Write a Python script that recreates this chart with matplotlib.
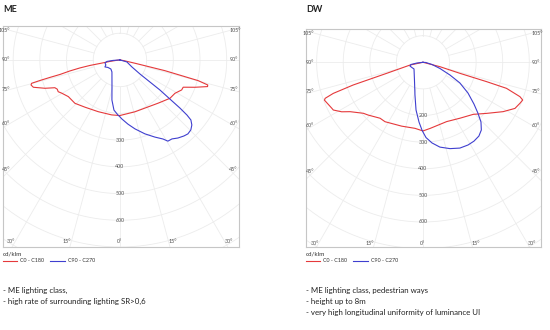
import numpy as np
import matplotlib.pyplot as plt
from matplotlib.lines import Line2D

# luminous intensity curves, gamma angle (deg from nadir) -> cd/klm
# ME luminaire
me_c0_gamma = [0, 16.2, 41.5, 52.5, 58.8, 64.1, 66.7, 70, 73.1, 74.1, 75.2, 76.6, 77.6, 80, 90]
me_c0_cd = [208, 202, 216, 236, 241, 257, 258, 299, 343, 342, 303, 173, 58, 15, 0]
me_c180_gamma = [0, 8.6, 22.8, 36.5, 46.1, 54.6, 60.3, 62.8, 65, 66.9, 69.3, 72.5, 74.3,
                 75.2, 75.6, 76, 76.4, 77.6, 78.7, 79.6, 80, 81.5, 83, 90]
me_c180_cd = [208, 208, 210, 220, 234, 237, 251, 260, 259, 265, 300, 340, 346,
              342, 309, 270, 231, 192, 153, 114, 76, 38, 15, 0]
me_c90_gamma = [0, 1.9, 7.1, 12.3, 18.7, 24.4, 28.6, 30.6, 33.4, 36.6, 40.1, 42.6, 45.4,
                47.9, 49.8, 50.6, 51.3, 52, 53.1, 53.7, 55, 59.7, 74, 90]
me_c90_cd = [213, 221, 242, 264, 292, 317, 337, 353, 354, 364, 372, 376, 373,
             363, 348, 325, 288, 237, 187, 139, 91, 52, 27, 0]
me_c270_gamma = [0, 2.1, 6.8, 11.3, 17.7, 33.7, 45, 58, 65, 70.3, 78.7, 83.4, 86, 90]
me_c270_cd = [213, 206, 189, 153, 98, 54, 48, 53, 62, 56, 57, 49, 26, 0]

# DW luminaire
dw_c0_gamma = [0, 6.1, 21.8, 33.5, 44, 51.3, 58.4, 63.4, 67.1, 69.3, 70.5, 72.7, 73.1, 73.4, 75.5, 90]
dw_c0_cd = [258, 250, 240, 252, 272, 307, 354, 387, 396, 401, 387, 329, 250, 145, 66, 0]
dw_c180_gamma = [0, 6.9, 18.5, 32.6, 37.5, 46.1, 49.5, 55.9, 58.7, 62, 63.3, 69, 69.8,
                 70.9, 72, 73.1, 78, 90]
dw_c180_cd = [258, 250, 253, 265, 265, 286, 295, 331, 358, 382, 384, 397, 392,
              357, 276, 143, 50, 0]
dw_c90_gamma = [0, 2.3, 6.4, 11.3, 17.4, 23.3, 28.6, 32.9, 37.2, 40.8, 44.2, 47.3, 50.7,
                55.7, 60.8, 64.8, 70, 76.3, 86, 90]
dw_c90_cd = [262, 283, 305, 325, 340, 351, 354, 353, 348, 336, 313, 281, 248,
             205, 159, 112, 68, 35, 11, 0]
dw_c270_gamma = [0.8, 3.8, 8.3, 13.7, 25.6, 53.3, 64.7, 74.1, 79.6, 83.3, 90]
dw_c270_cd = [255, 225, 181, 127, 74, 42, 46, 51, 46, 23, 0]

W, H = 550, 330
RED = '#e5393b'
BLUE = '#3f3fcf'
GRID = '#ececec'
LBL = '#505050'
plt.rcParams['font.family'] = ['Lato', 'DejaVu Sans']


def px(x, y):
    return x / W, 1 - y / H


def xy(gamma, cd, side):
    g = np.radians(np.asarray(gamma, float)) * side
    r = np.asarray(cd, float)
    return r * np.sin(g), -r * np.cos(g)


def curve(ax, g_right, i_right, g_left, i_left, color):
    xl, yl = xy(g_left, i_left, -1)
    xr, yr = xy(g_right, i_right, 1)
    x = np.concatenate([xl[::-1], xr])
    y = np.concatenate([yl[::-1], yr])
    ax.plot(x, y, color=color, lw=0.8, zorder=3)


def panel(rect, xlim, ylim, radial_labels):
    ax = fig.add_axes(rect)
    ax.set_xlim(*xlim)
    ax.set_ylim(*ylim)
    ax.set_xticks([])
    ax.set_yticks([])
    for s in ax.spines.values():
        s.set_color('#c6c6c6')
        s.set_linewidth(0.8)
    t = np.linspace(0, 2 * np.pi, 361)
    for r in range(100, 1000, 100):
        ax.plot(r * np.sin(t), r * np.cos(t), color=GRID, lw=0.6, zorder=1)
    for a in range(0, 360, 15):
        ar = np.radians(a)
        ax.plot([100 * np.sin(ar), 1200 * np.sin(ar)], [-100 * np.cos(ar), -1200 * np.cos(ar)],
                color=GRID, lw=0.6, zorder=1)
    for r in radial_labels:
        ax.text(0, -r, str(r), ha='center', va='center', fontsize=3.9, color=LBL, zorder=2)
    # angle labels on the sides
    for a in [105, 90, 75, 60, 45]:
        ar = np.radians(a)
        yy = -410 * np.cos(ar) / np.sin(ar)
        ax.text(-410, yy, f'{a}°', ha='right', va='center', fontsize=3.9, color=LBL)
        ax.text(410, yy, f'{a}°', ha='left', va='center', fontsize=3.9, color=LBL)
    # and along the bottom
    for a in [30, 15, 0]:
        xx = 680 * np.tan(np.radians(a))
        if a == 0:
            ax.text(0, -680, '0°', ha='center', va='center', fontsize=3.9, color=LBL)
        else:
            ax.text(-xx, -680, f'{a}°', ha='right', va='center', fontsize=3.9, color=LBL)
            ax.text(xx, -680, f'{a}°', ha='left', va='center', fontsize=3.9, color=LBL)
    return ax


fig = plt.figure(figsize=(W / 100, H / 100), dpi=100)

ax1 = panel([3 / W, (H - 247) / H, 236 / W, 221 / H], (-438, 446), (-700, 127), [300, 400, 500, 600])
curve(ax1, me_c0_gamma, me_c0_cd, me_c180_gamma, me_c180_cd, RED)
curve(ax1, me_c90_gamma, me_c90_cd, me_c270_gamma, me_c270_cd, BLUE)

ax2 = panel([306 / W, (H - 246.7) / H, 235 / W, 217.4 / H], (-440, 444), (-693, 124), [200, 300, 400, 500, 600])
curve(ax2, dw_c0_gamma, dw_c0_cd, dw_c180_gamma, dw_c180_cd, RED)
curve(ax2, dw_c90_gamma, dw_c90_cd, dw_c270_gamma, dw_c270_cd, BLUE)

# titles, legends and notes
for x0, title, notes in [(3, 'ME', ['- ME lighting class,',
                                    '- high rate of surrounding lighting SR>0,6']),
                         (306, 'DW', ['- ME lighting class, pedestrian ways',
                                      '- height up to 8m',
                                      '- very high longitudinal uniformity of luminance UI'])]:
    fig.text(*px(x0, 10), title, fontsize=6.5, fontweight='bold', va='center', color='#222222')
    fig.text(*px(x0, 254), 'cd/klm', fontsize=4.5, va='center', color='#333333')
    fig.add_artist(Line2D([px(x0, 0)[0], px(x0 + 14, 0)[0]], [px(0, 261)[1]] * 2, color=RED, lw=0.8))
    fig.text(*px(x0 + 17, 261), 'C0 - C180', fontsize=3.9, va='center', color='#333333')
    fig.add_artist(Line2D([px(x0 + 47, 0)[0], px(x0 + 62, 0)[0]], [px(0, 261)[1]] * 2, color=BLUE, lw=0.8))
    fig.text(*px(x0 + 65, 261), 'C90 - C270', fontsize=3.9, va='center', color='#333333')
    for k, line in enumerate(notes):
        fig.text(*px(x0, 290 + 11.5 * k), line, fontsize=5.7, va='center', color='#222222')

fig.savefig('out.png', dpi=100, facecolor='white')
